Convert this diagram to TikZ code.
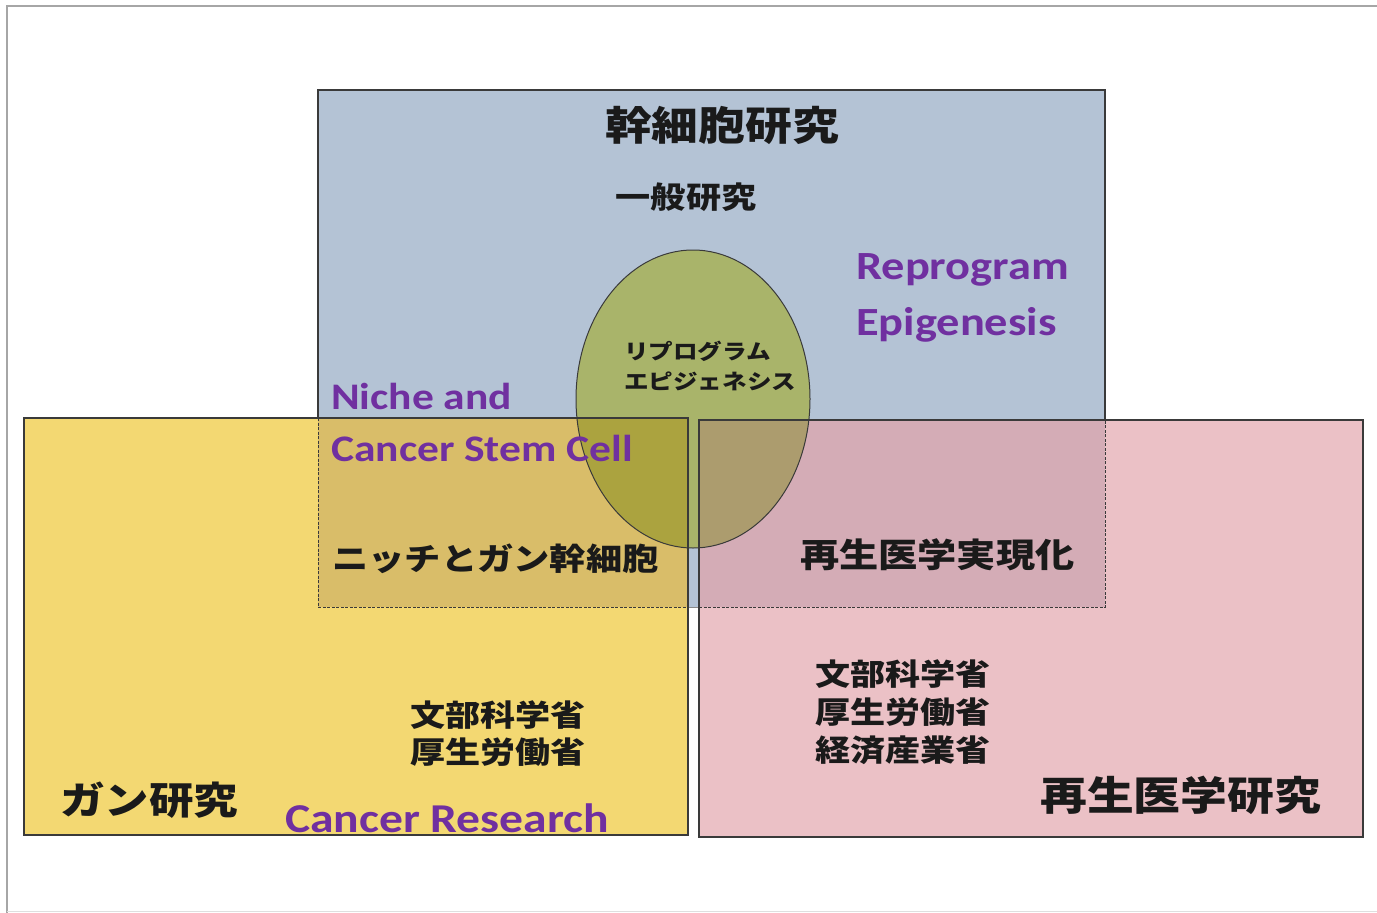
\documentclass[tikz,border=0pt]{standalone}
\usepackage{fontspec}
\newfontfamily\jp{Noto Sans CJK JP}[FakeStretch=1.17]
\newfontfamily\en{Carlito}[FakeStretch=1.16]
\definecolor{bluebox}{HTML}{B4C3D5}
\definecolor{yellowbox}{HTML}{F3D872}
\definecolor{pinkbox}{HTML}{EBC1C6}
\definecolor{yellowblue}{HTML}{D9BD69}
\definecolor{pinkblue}{HTML}{D4ACB6}
\definecolor{ellgreen}{HTML}{A9B46A}
\definecolor{ellyellow}{HTML}{ABA33F}
\definecolor{ellpink}{HTML}{AC9C6E}
\definecolor{purpletext}{HTML}{7030A0}
\definecolor{edge}{HTML}{3A3A3A}
\definecolor{inktext}{HTML}{1A1A1A}
\tikzset{
  boxedge/.style={draw=edge, line width=1.1pt},
  dashedge/.style={draw=edge, line width=0.9pt, dash pattern=on 3pt off 1.5pt},
  jptext/.style={inner sep=0pt, text=inktext, font=\jp\bfseries},
  entext/.style={inner sep=0pt, text=purpletext, font=\en\bfseries\fontsize{40}{48}\selectfont, anchor=base west},
}
\begin{document}
\begin{tikzpicture}[x=1pt, y=-1pt]
\useasboundingbox (0,0) rectangle (1377,913);
\fill[white] (0,0) rectangle (1377,913);
% outer frame
\draw[gray!70, line width=1.5pt] (7,913) -- (7,6) -- (1377,6);
\draw[gray!25, line width=1pt] (7,911) -- (1377,911);
% base boxes
\fill[bluebox] (318,90) rectangle (1105,607);
\fill[yellowbox] (24,418) rectangle (688,835);
\fill[pinkbox] (699,420) rectangle (1363,837);
% overlaps
\fill[yellowblue] (318,418) rectangle (688,607);
\fill[pinkblue] (699,420) rectangle (1105,607);
% ellipse fill
\begin{scope}
  \clip (693,399) ellipse [x radius=117, y radius=149];
  \fill[ellgreen] (576,250) rectangle (810,548);
  \fill[ellyellow] (318,418) rectangle (688,607);
  \fill[ellpink] (699,420) rectangle (1105,607);
\end{scope}
% edges
\draw[boxedge] (318,418) -- (318,90) -- (1105,90) -- (1105,420);
\draw[dashedge] (318,418) -- (318,607) -- (688,607);
\draw[dashedge] (699,607) -- (1105,607) -- (1105,420);
\draw[edge!60, line width=0.6pt] (688,607) -- (699,607);
\draw[edge, line width=1pt] (693,399) ellipse [x radius=117, y radius=149];
\draw[boxedge] (24,418) rectangle (688,835);
\draw[boxedge] (699,420) rectangle (1363,837);
% texts
\node[jptext, font=\jp\bfseries\fontsize{40}{48}\selectfont] (stem) at (722,125) {幹細胞研究};
\node[jptext, font=\jp\bfseries\fontsize{30}{36}\selectfont] (general) at (686,197) {一般研究};
\node[jptext, font=\jp\bfseries\fontsize{21}{30}\selectfont, anchor=west, align=left] (repro) at (624,366) {リプログラム\\エピジェネシス};
\node[entext] (reprog) at (856,279) {Reprogram};
\node[entext] (epig) at (856,335) {Epigenesis};
\node[entext, font=\en\bfseries\fontsize{37.5}{46}\selectfont] (niche) at (331,409) {Niche and};
\node[entext, font=\en\bfseries\fontsize{37.5}{46}\selectfont] (csc) at (331,461) {Cancer Stem Cell};
\node[jptext, font=\jp\bfseries\fontsize{31}{36}\selectfont, anchor=west] (nichejp) at (332,559) {ニッチとガン幹細胞};
\node[jptext, font=\jp\bfseries\fontsize{33.5}{40}\selectfont, anchor=west] (regenreal) at (800,555) {再生医学実現化};
\node[jptext, font=\jp\bfseries\fontsize{30}{37}\selectfont, anchor=west, align=left] (minleft) at (410,734) {文部科学省\\厚生労働省};
\node[jptext, font=\jp\bfseries\fontsize{38}{46}\selectfont, anchor=west] (cancerjp) at (60,800) {ガン研究};
\node[entext, font=\en\bfseries\fontsize{41}{48}\selectfont] (cancer) at (285,832) {Cancer Research};
\node[jptext, font=\jp\bfseries\fontsize{30}{38}\selectfont, anchor=west, align=left] (minright) at (815,712) {文部科学省\\厚生労働省\\経済産業省};
\node[jptext, font=\jp\bfseries\fontsize{40}{48}\selectfont, anchor=west] (regenjp) at (1040,795) {再生医学研究};
\end{tikzpicture}
\end{document}
